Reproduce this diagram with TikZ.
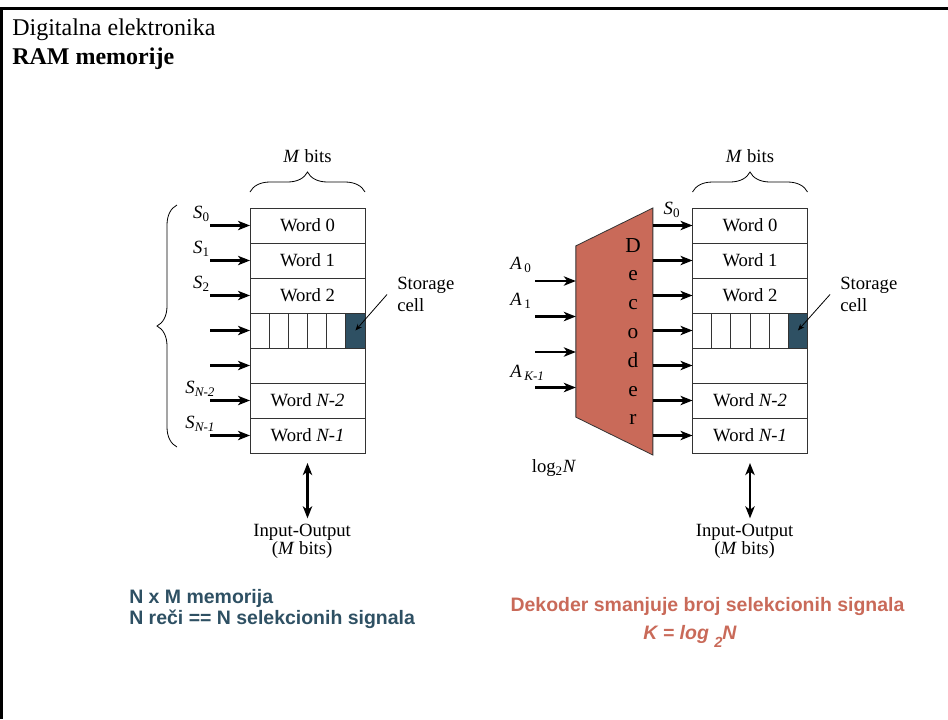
\documentclass[tikz,border=0pt]{standalone}
\usepackage{fontspec}
\setmainfont{Liberation Serif}
\newfontfamily\capfont{Liberation Sans}
\definecolor{cellslate}{RGB}{46, 80, 99}
\definecolor{decsalmon}{RGB}{201, 106, 89}
\usetikzlibrary{arrows.meta, positioning, calc, decorations.pathreplacing}

\begin{document}
\begin{tikzpicture}[
      x=0.75pt, y=-0.75pt,
      word/.style={rectangle, draw=black!80, line width=0.7pt, minimum width=86.25pt,
                   minimum height=26.25pt, inner sep=0pt, outer sep=0pt,
                   font=\fontsize{14}{16}\selectfont},
      bitcell/.style={rectangle, draw=black!80, line width=0.7pt, minimum width=14.375pt,
                      minimum height=26.25pt, inner sep=0pt, outer sep=0pt},
      sig/.style={inner sep=0pt, font=\fontsize{14}{16}\selectfont},
      lbl/.style={inner sep=0pt, align=center, font=\fontsize{14}{14}\selectfont},
      store/.style={inner sep=0pt, align=left, anchor=west, font=\fontsize{14}{16.3}\selectfont},
      note/.style={anchor=base west, inner sep=0pt, font=\capfont\bfseries\fontsize{14.6}{17}\selectfont},
      sel/.style={-{Stealth[length=9pt, width=7pt, inset=2.5pt]}, line width=1.6pt},
      iob/.style={{Stealth[length=9pt, width=7pt, inset=2.5pt]}-{Stealth[length=9pt, width=7pt, inset=2.5pt]},
                  line width=1.6pt},
      ptr/.style={-{Stealth[length=5pt, width=4pt]}, line width=0.6pt},
      brc/.style={decorate, decoration={brace, amplitude=15pt}, line width=0.6pt}
    ]
      \useasboundingbox (0,0) rectangle (948,719);

      % Frame and heading
      \draw[line width=2.4pt] (1.6,719) -- (1.6,8.5) -- (948,8.5);
      \node[anchor=base west, inner sep=0pt, font=\fontsize{18}{20}\selectfont] (subj) at (12,35) {Digitalna elektronika};
      \node[anchor=base west, inner sep=0pt, font=\fontsize{18}{20}\selectfont\bfseries] (topic) at (12,64) {RAM memorije};

      % Left memory, N words of M bits
      \node[word] (lw0) at (307.5,225.5) {Word 0};
      \node[word, below=0pt of lw0] (lw1) {Word 1};
      \node[word, below=0pt of lw1] (lw2) {Word 2};
      \node[bitcell, anchor=north west] (lc1) at (lw2.south west) {};
      \node[bitcell, right=0pt of lc1] (lc2) {};
      \node[bitcell, right=0pt of lc2] (lc3) {};
      \node[bitcell, right=0pt of lc3] (lc4) {};
      \node[bitcell, right=0pt of lc4] (lc5) {};
      \node[bitcell, right=0pt of lc5, fill=cellslate] (lc6) {};
      \node[word, below=26.25pt of lw2] (lw3) {};
      \node[word, below=0pt of lw3] (lw4) {Word \textit{N-2}};
      \node[word, below=0pt of lw4] (lw5) {Word \textit{N-1}};

      % Select lines
      \coordinate[left=30pt of lw0.west] (ls0);
      \coordinate[left=30pt of lw1.west] (ls1);
      \coordinate[left=30pt of lw2.west] (ls2);
      \coordinate[left=30pt of lc1.west] (ls3);
      \coordinate[left=30pt of lw3.west] (ls4);
      \coordinate[left=30pt of lw4.west] (ls5);
      \coordinate[left=30pt of lw5.west] (ls6);
      \draw[sel] (ls0) -- (lw0);
      \draw[sel] (ls1) -- (lw1);
      \draw[sel] (ls2) -- (lw2);
      \draw[sel] (ls3) -- (lc1);
      \draw[sel] (ls4) -- (lw3);
      \draw[sel] (ls5) -- (lw4);
      \draw[sel] (ls6) -- (lw5);
      \node[sig, above left=3pt and 0pt of ls0] (lsl0) {\textit{S}\textsubscript{0}};
      \node[sig, above left=3pt and 0pt of ls1] (lsl1) {\textit{S}\textsubscript{1}};
      \node[sig, above left=3pt and 0pt of ls2] (lsl2) {\textit{S}\textsubscript{2}};
      \node[sig, above left=3pt and -4pt of ls5] (lsl5) {\textit{S}\textsubscript{\textit{N-2}}};
      \node[sig, above left=3pt and -4pt of ls6] (lsl6) {\textit{S}\textsubscript{\textit{N-1}}};

      % Braces
      \coordinate (lbt) at (177,205);
      \coordinate (lbb) at (177,447);
      \draw[brc] (lbb) -- (lbt);
      \draw[brc] ([yshift=12pt]lw0.north west) -- ([yshift=12pt]lw0.north east)
        node[lbl, midway, above=21.75pt] (lbits) {\textit{M} bits};

      % Storage cell and data port
      \node[store] (lstore) at (397,294.5) {Storage\\cell};
      \draw[ptr] ([xshift=-7.5pt]lstore.west) -- (lc6.center);
      \node[lbl, below=53pt of lw5, xshift=-4pt] (lio) {Input-Output\\(\textit{M} bits)};
      \draw[iob, shorten <=7.5pt, shorten >=4pt] (lw5.south) -- (lw5.south |- lio.north);

      % Decoder
      \node[minimum width=57.75pt, minimum height=185.25pt, inner sep=0pt, outer sep=0pt] (dec) at (614.35,331.5) {};
      \filldraw[fill=decsalmon, draw=black!80, line width=0.6pt] (dec.north east) -- (dec.south east)
        -- ([yshift=28.4pt]dec.south west) -- ([yshift=-28.4pt]dec.north west) -- cycle;
      \node[inner sep=0pt, align=center, font=\fontsize{16}{21.6}\selectfont] (dtext)
        at ([xshift=14pt]dec.center) {D\\e\\c\\o\\d\\e\\r};

      % Address inputs
      \coordinate (ia0) at (535,281);
      \coordinate (ia1) at (535,316.5);
      \coordinate (ia2) at (535,352);
      \coordinate (ia3) at (535,387.5);
      \draw[sel] (ia0) -- (ia0 -| dec.west);
      \draw[sel] (ia1) -- (ia1 -| dec.west);
      \draw[sel] (ia2) -- (ia2 -| dec.west);
      \draw[sel] (ia3) -- (ia3 -| dec.west);
      \node[sig, anchor=south west] (ra0) at ([xshift=-18.75pt, yshift=6pt]ia0) {\textit{A}\kern2pt\textsubscript{0}};
      \node[sig, anchor=south west] (ra1) at ([xshift=-18.75pt, yshift=6pt]ia1) {\textit{A}\kern2pt\textsubscript{1}};
      \node[sig, anchor=south west] (ra3) at ([xshift=-18.75pt, yshift=5pt]ia3) {\textit{A}\kern2pt\textsubscript{\textit{K-1}}};
      \node[sig] (rlog) at (554,468) {log\textsubscript{2}\textit{N}};

      % Right memory
      \node[word] (rw0) at (750,225.5) {Word 0};
      \node[word, below=0pt of rw0] (rw1) {Word 1};
      \node[word, below=0pt of rw1] (rw2) {Word 2};
      \node[bitcell, anchor=north west] (rc1) at (rw2.south west) {};
      \node[bitcell, right=0pt of rc1] (rc2) {};
      \node[bitcell, right=0pt of rc2] (rc3) {};
      \node[bitcell, right=0pt of rc3] (rc4) {};
      \node[bitcell, right=0pt of rc4] (rc5) {};
      \node[bitcell, right=0pt of rc5, fill=cellslate] (rc6) {};
      \node[word, below=26.25pt of rw2] (rw3) {};
      \node[word, below=0pt of rw3] (rw4) {Word \textit{N-2}};
      \node[word, below=0pt of rw4] (rw5) {Word \textit{N-1}};

      % Decoder outputs
      \draw[sel] (rw0 -| dec.east) -- (rw0);
      \draw[sel] (rw1 -| dec.east) -- (rw1);
      \draw[sel] (rw2 -| dec.east) -- (rw2);
      \draw[sel] (rc1 -| dec.east) -- (rc1);
      \draw[sel] (rw3 -| dec.east) -- (rw3);
      \draw[sel] (rw4 -| dec.east) -- (rw4);
      \draw[sel] (rw5 -| dec.east) -- (rw5);
      \node[sig, above left=6pt and 9pt of rw0.west] (rsl0) {\textit{S}\textsubscript{0}};

      \draw[brc] ([yshift=12pt]rw0.north west) -- ([yshift=12pt]rw0.north east)
        node[lbl, midway, above=21.75pt] (rbits) {\textit{M} bits};
      \node[store] (rstore) at (840,294.5) {Storage\\cell};
      \draw[ptr] ([xshift=-7.5pt]rstore.west) -- (rc6.center);
      \node[lbl, below=53pt of rw5, xshift=-4pt] (rio) {Input-Output\\(\textit{M} bits)};
      \draw[iob, shorten <=7.5pt, shorten >=4pt] (rw5.south) -- (rw5.south |- rio.north);

      % Captions
      \node[note, text=cellslate] (capl1) at (129,603) {N x M memorija};
      \node[note, text=cellslate] (capl2) at (129,624) {N reči == N selekcionih signala};
      \node[note, anchor=base, text=decsalmon] (capr1) at (707.5,611.7) {Dekoder smanjuje broj selekcionih signala};
      \node[note, anchor=base, text=decsalmon, font=\capfont\bfseries\itshape\fontsize{14.6}{17}\selectfont] (capr2)
        at (690,639) {K = log \raisebox{-6pt}{\fontsize{11}{11}\selectfont 2}N};
    \end{tikzpicture}
\end{document}
